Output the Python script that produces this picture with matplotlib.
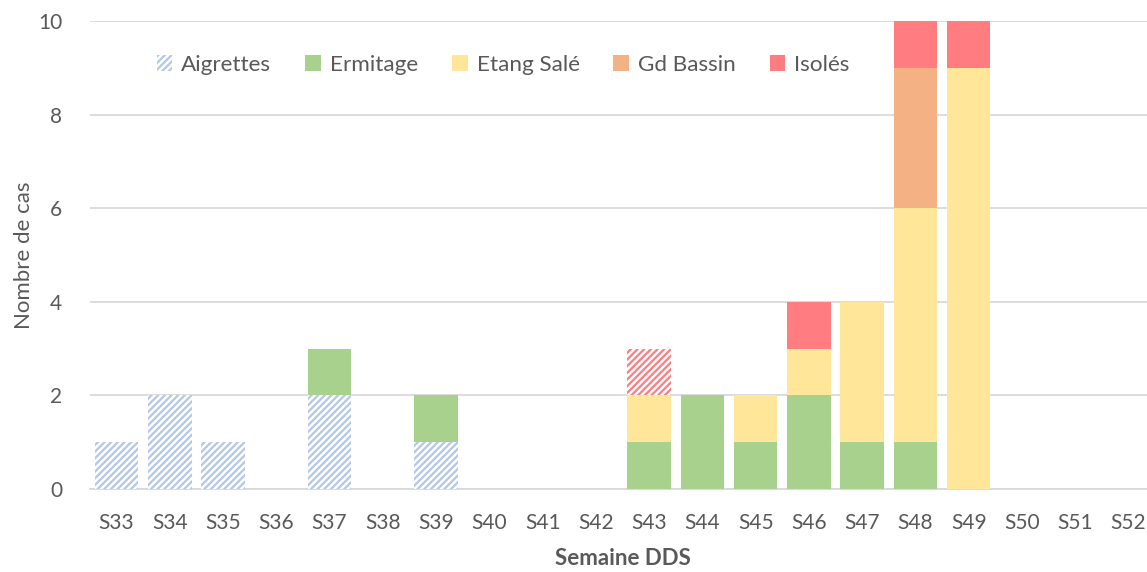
import matplotlib
matplotlib.use("Agg")
import matplotlib.pyplot as plt
import numpy as np

weeks = ["S33", "S34", "S35", "S36", "S37", "S38", "S39", "S40", "S41", "S42",
         "S43", "S44", "S45", "S46", "S47", "S48", "S49", "S50", "S51", "S52"]
aigrettes = [1, 2, 1, 0, 2, 0, 1, 0, 0, 0, 0, 0, 0, 0, 0, 0, 0, 0, 0, 0]
ermitage  = [0, 0, 0, 0, 1, 0, 1, 0, 0, 0, 1, 2, 1, 2, 1, 1, 0, 0, 0, 0]
etang_sale = [0, 0, 0, 0, 0, 0, 0, 0, 0, 0, 1, 0, 1, 1, 3, 5, 9, 0, 0, 0]
gd_bassin = [0, 0, 0, 0, 0, 0, 0, 0, 0, 0, 0, 0, 0, 0, 0, 3, 0, 0, 0, 0]
isoles    = [0, 0, 0, 0, 0, 0, 0, 0, 0, 0, 1, 0, 0, 1, 0, 1, 1, 0, 0, 0]
isoles_hatched_weeks = ["S43"]

series_names = ["Aigrettes", "Ermitage", "Etang Salé", "Gd Bassin", "Isolés"]
colors = ["#b4c7e7", "#a9d18e", "#ffe699", "#f4b183", "#ff7c80"]

plt.rcParams['font.family'] = ['Lato', 'DejaVu Sans']
plt.rcParams['hatch.linewidth'] = 1.6

fig = plt.figure(figsize=(11.47, 5.72), dpi=100)
ax = fig.add_axes([0.0784, 0.145, 0.9286, 0.818])

x = np.arange(len(weeks))
width = 0.82
bottom = np.zeros(len(weeks))
all_series = [aigrettes, ermitage, etang_sale, gd_bassin, isoles]
handles = []
HATCH = "/////"
for name, vals, col in zip(series_names, all_series, colors):
    vals = np.array(vals, dtype=float)
    if name == "Aigrettes":
        bars = ax.bar(x, vals, width, bottom=bottom, facecolor="white",
                      edgecolor=col, linewidth=0, hatch=HATCH, label=name, zorder=3)
    else:
        bars = ax.bar(x, vals, width, bottom=bottom, color=col, linewidth=0,
                      label=name, zorder=3)
        if name == "Isolés":
            for i, w in enumerate(weeks):
                if w in isoles_hatched_weeks:
                    bars[i].set_facecolor("white")
                    bars[i].set_edgecolor(col)
                    bars[i].set_hatch(HATCH)
    handles.append(bars)
    bottom += vals

ax.set_xlim(-0.5, len(weeks) - 0.5)
ax.set_ylim(0, 10)
ax.set_yticks(np.arange(0, 11, 2))
ax.set_xticks(x)
ax.set_xticklabels(weeks)
ax.grid(axis="y", color="#d9d9d9", linewidth=1.3, zorder=0)
for s in ["left", "right", "top"]:
    ax.spines[s].set_visible(False)
ax.spines["bottom"].set_color("#d9d9d9")
ax.spines["bottom"].set_linewidth(1.3)
ax.tick_params(axis="both", length=0, labelsize=15, colors="#595959")
ax.tick_params(axis="x", pad=17)
ax.tick_params(axis="y", pad=20)
ax.set_xlabel("Semaine DDS", fontsize=16, fontweight="bold", color="#595959", labelpad=11)
ax.set_ylabel("Nombre de cas", fontsize=16, color="#595959", labelpad=3)

leg = ax.legend(handles=handles, labels=series_names, ncol=5, loc="center",
                bbox_to_anchor=(0.388, 0.906), frameon=False, fontsize=16.2,
                handlelength=0.7, handleheight=0.7, handletextpad=0.4, columnspacing=1.5)
for t in leg.get_texts():
    t.set_color("#595959")

fig.savefig("out.png", dpi=100)
